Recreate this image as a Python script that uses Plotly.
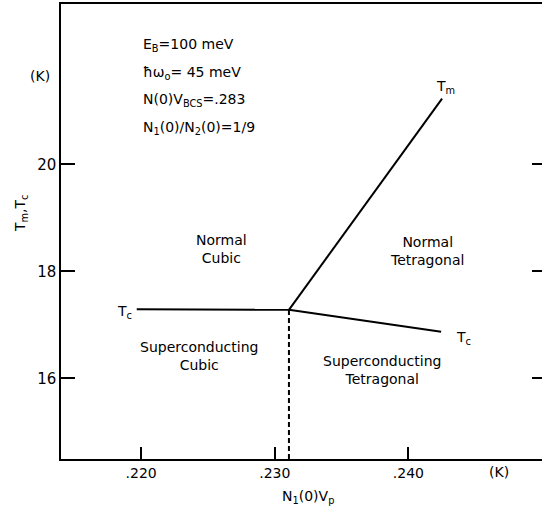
import plotly.graph_objects as go

# ---- data ----
junction_x = 0.23106
junction_y = 17.28

tm_x = [junction_x, 0.24252]
tm_y = [junction_y, 21.23]

tc_cubic_x = [0.21967, junction_x]
tc_cubic_y = [17.29, junction_y]

tc_tetra_x = [junction_x, 0.24245]
tc_tetra_y = [junction_y, 16.87]

boundary_x = [junction_x, junction_x]
boundary_y = [14.49, junction_y]

x_tickvals = [0.220, 0.230, 0.240]
x_ticktext = [".220", ".230", ".240"]
y_tickvals = [16, 18, 20]
y_ticktext = ["16", "18", "20"]

X_RANGE = [0.2140, 0.2500]
Y_RANGE = [14.49, 23.0]

W, H = 542, 508
ML, MR, MT, MB = 61, 0, 4, 49
FONT = "DejaVu Sans"
FS = 14

line = dict(color="black", width=2)

fig = go.Figure()
fig.add_trace(go.Scatter(x=tm_x, y=tm_y, mode="lines", line=line, hoverinfo="skip"))
fig.add_trace(go.Scatter(x=tc_cubic_x, y=tc_cubic_y, mode="lines", line=line, hoverinfo="skip"))
fig.add_trace(go.Scatter(x=tc_tetra_x, y=tc_tetra_y, mode="lines", line=line, hoverinfo="skip"))
fig.add_trace(go.Scatter(x=boundary_x, y=boundary_y, mode="lines",
                         line=dict(color="black", width=2, dash="5px,3px"), hoverinfo="skip"))
# invisible trace carrying the right-hand tick axis
fig.add_trace(go.Scatter(x=X_RANGE, y=Y_RANGE, mode="lines", line=dict(width=0),
                         yaxis="y2", hoverinfo="skip", showlegend=False, opacity=0))

pw = W - ML - MR
ph = H - MT - MB


def p2d(xp, yp):
    """convert a window pixel position to data coordinates (label placement only)"""
    x = X_RANGE[0] + (xp - ML) / pw * (X_RANGE[1] - X_RANGE[0])
    y = Y_RANGE[1] - (yp - MT) / ph * (Y_RANGE[1] - Y_RANGE[0])
    return x, y


def label(text, xp, yp, xanchor="center", size=FS):
    x, y = p2d(xp, yp)
    fig.add_annotation(x=x, y=y, xref="x", yref="y", text=text, showarrow=False,
                       xanchor=xanchor, yanchor="middle",
                       font=dict(family=FONT, size=size, color="black"))


def outside(text, xp, yp, angle=0):
    fig.add_annotation(x=(xp - ML) / pw, y=1 - (yp - MT) / ph, xref="paper", yref="paper",
                       text=text, showarrow=False, textangle=angle,
                       xanchor="center", yanchor="middle",
                       font=dict(family=FONT, size=FS, color="black"))


# parameter block
label("E<sub>B</sub>=100 meV", 141, 45, xanchor="left")
label("ħω<sub>o</sub>= 45 meV", 141, 73, xanchor="left")
label("N(0)V<sub>BCS</sub>=.283", 141, 100, xanchor="left")
label("N<sub>1</sub>(0)/N<sub>2</sub>(0)=1/9", 141, 128, xanchor="left")

# curve labels
label("T<sub>m</sub>", 445, 87)
label("T<sub>c</sub>", 124, 312)
label("T<sub>c</sub>", 463, 338)

# region labels
label("Normal<br>Cubic", 221, 249)
label("Superconducting<br>Cubic", 199, 356)
label("Normal<br>Tetragonal", 427, 251)
label("Superconducting<br>Tetragonal", 382, 370)

# units and axis titles
outside("(K)", 40, 76)
outside("(K)", 499, 472)
outside("T<sub>m</sub>,T<sub>c</sub>", 21, 213, angle=-90)
outside("N<sub>1</sub>(0)V<sub>p</sub>", 308, 497)

fig.update_layout(
    width=W, height=H,
    margin=dict(l=ML, r=MR, t=MT, b=MB, pad=0),
    paper_bgcolor="white", plot_bgcolor="white",
    showlegend=False,
    font=dict(family=FONT, size=FS, color="black"),
    xaxis=dict(range=X_RANGE, tickvals=x_tickvals, ticktext=x_ticktext,
               ticks="inside", ticklen=12, tickwidth=1.5, tickcolor="black",
               showline=True, linecolor="black", linewidth=1.5, mirror=True,
               showgrid=False, zeroline=False, tickfont=dict(size=14)),
    yaxis=dict(range=Y_RANGE, tickvals=y_tickvals, ticktext=y_ticktext,
               ticks="inside", ticklen=14, tickwidth=1.5, tickcolor="black",
               showline=True, linecolor="black", linewidth=1.5,
               showgrid=False, zeroline=False, tickfont=dict(size=15)),
    yaxis2=dict(range=Y_RANGE, overlaying="y", side="right", tickvals=y_tickvals,
                ticks="inside", ticklen=10, tickwidth=1.5, tickcolor="black",
                showticklabels=False, showline=False, showgrid=False, zeroline=False),
)

fig.write_html("out.html")
